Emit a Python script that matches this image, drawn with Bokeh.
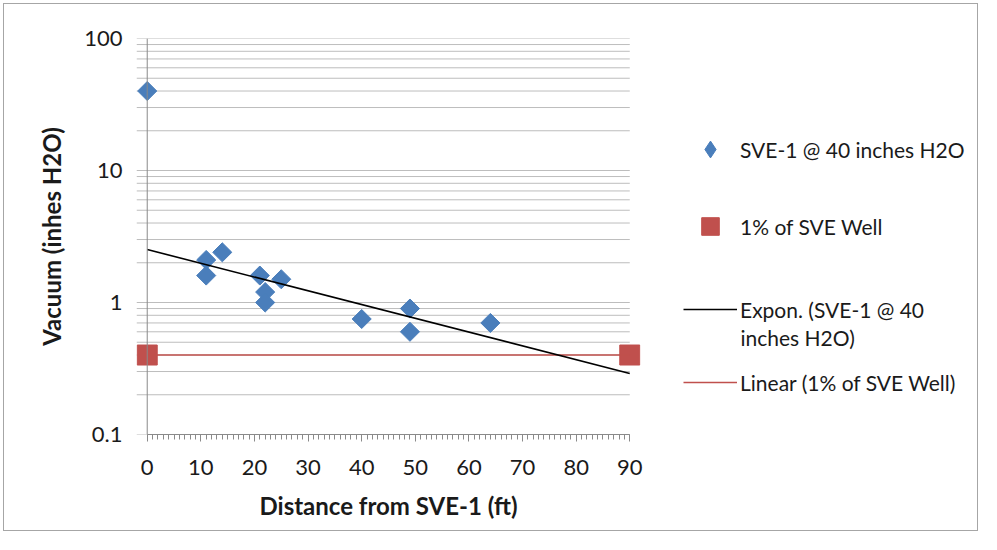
from bokeh.plotting import figure
from bokeh.layouts import row
from bokeh.models import (Range1d, SingleIntervalTicker, FixedTicker, Span, Legend, LegendItem,
                          Label, CustomJSTickFormatter)
from bokeh.embed import file_html
from bokeh.resources import INLINE

# ---- data ----
distance_ft = [0, 11, 11, 14, 21, 22, 22, 25, 40, 49, 49, 64]
vacuum_inh2o = [40, 2.1, 1.6, 2.4, 1.6, 1.2, 1.0, 1.5, 0.75, 0.9, 0.6, 0.7]

well_1pct_x = [0, 90]
well_1pct_y = [0.4, 0.4]

# exponential trendline end points (straight on log axis)
trend_x = [0, 90]
trend_y = [2.52, 0.29]

x_tick_values = [0, 10, 20, 30, 40, 50, 60, 70, 80, 90]
y_tick_values = [0.1, 1, 10, 100]
y_decades = [0.1, 1, 10]
y_multiples = [1, 2, 3, 4, 5, 6, 7, 8, 9]
grid_levels = [d * m for d in y_decades for m in y_multiples] + [100]

legend_labels = ["SVE-1 @ 40 inches H2O", "1% of SVE Well",
                 "Expon. (SVE-1 @ 40", "Linear (1% of SVE Well)"]
legend_second_line = "inches H2O)"

FONT = "Lato"
TEXT = "#1a1a1a"
BLUE = "#4a7ebb"
RED = "#c0504d"
GRID = "#bdbdbd"
AXIS = "#8a8a8a"
FRAME = "#a6a6a6"
NAN = float("nan")
DIAMOND = 0.785398  # 45 degrees

X0, X1 = -2, 92

p = figure(x_range=Range1d(X0, X1), y_range=Range1d(0.1, 100), y_axis_type="log",
           frame_width=504, frame_height=396,
           min_border_left=136, min_border_right=12, min_border_top=38, min_border_bottom=100,
           output_backend="svg", toolbar_location=None,
           background_fill_color="white", border_fill_color=None)
p.outline_line_color = None
p.xgrid.visible = False
p.ygrid.visible = False
p.styles = {"box-shadow": (f"inset 3px 0 0 0 #fff, inset 0 3px 0 0 #fff, inset 0 -3px 0 0 #fff, "
                           f"inset 4px 0 0 0 {FRAME}, inset 0 4px 0 0 {FRAME}, "
                           f"inset 0 -4px 0 0 {FRAME}")}

# horizontal grid lines (major + minor log levels)
p.segment(x0=[X0] * len(grid_levels), y0=grid_levels, x1=[x_tick_values[-1]] * len(grid_levels),
          y1=grid_levels, line_color=GRID, line_width=1)

# vertical axis line at x = 0
p.add_layout(Span(location=0, dimension="height", line_color=AXIS, line_width=1))

# ---- x axis ----
xa = p.xaxis[0]
xa.ticker = SingleIntervalTicker(interval=10, num_minor_ticks=10)
xa.bounds = (0, 90)
xa.axis_line_color = AXIS
xa.major_tick_line_color = AXIS
xa.minor_tick_line_color = AXIS
xa.major_tick_in = 0
xa.major_tick_out = 7
xa.minor_tick_in = 0
xa.minor_tick_out = 5
xa.major_label_standoff = 18
xa.major_label_text_font = FONT
xa.major_label_text_font_size = "22px"
xa.major_label_text_color = TEXT
xa.axis_label = "Distance from SVE-1 (ft)"
xa.axis_label_text_font = FONT
xa.axis_label_text_font_size = "24px"
xa.axis_label_text_font_style = "bold"
xa.axis_label_text_color = TEXT
xa.axis_label_standoff = 13

# ---- y axis ----
ya = p.yaxis[0]
ya.ticker = FixedTicker(ticks=y_tick_values, minor_ticks=[])
ya.formatter = CustomJSTickFormatter(code="return tick >= 1 ? tick.toFixed(0) : tick.toFixed(1);")
ya.axis_line_color = None
ya.major_tick_line_color = None
ya.minor_tick_line_color = None
ya.major_tick_out = 0
ya.major_tick_in = 0
ya.major_label_standoff = 14
ya.major_label_text_font = FONT
ya.major_label_text_font_size = "22px"
ya.major_label_text_color = TEXT
ya.axis_label = "Vacuum (inhes H2O)"
ya.axis_label_text_font = FONT
ya.axis_label_text_font_size = "24px"
ya.axis_label_text_font_style = "bold"
ya.axis_label_text_color = TEXT
ya.axis_label_standoff = 15

# ---- data ----
p.scatter(well_1pct_x, well_1pct_y, marker="square", size=20, fill_color=RED, line_color=RED)
p.scatter(distance_ft, vacuum_inh2o, marker="square", size=13.5, angle=DIAMOND,
          fill_color=BLUE, line_color=BLUE)
p.line(well_1pct_x, well_1pct_y, line_color=RED, line_width=1.6)
p.line(trend_x, trend_y, line_color="black", line_width=1.6)

# ---- legend panel (separate canvas to the right of the plot) ----
pl = figure(width=329, height=534, x_range=Range1d(0, 1), y_range=Range1d(0, 1),
            min_border=0, x_axis_location=None, y_axis_location=None,
            output_backend="svg", toolbar_location=None,
            background_fill_color=None, border_fill_color=None)
pl.outline_line_color = None
pl.grid.visible = False
pl.styles = {"box-shadow": (f"inset -3px 0 0 0 #fff, inset 0 3px 0 0 #fff, inset 0 -3px 0 0 #fff, "
                            f"inset -4px 0 0 0 {FRAME}, inset 0 4px 0 0 {FRAME}, "
                            f"inset 0 -4px 0 0 {FRAME}")}

# legend keys only (no visible data in this panel)
k_dia = pl.scatter(x=[NAN], y=[NAN], marker="diamond", fill_color=BLUE, line_color=BLUE)
k_sq = pl.scatter(x=[NAN], y=[NAN], marker="square", fill_color=RED, line_color=RED)
k_exp = pl.line(x=[NAN, NAN], y=[NAN, NAN], line_color="black", line_width=1.6)
k_lin = pl.line(x=[NAN, NAN], y=[NAN, NAN], line_color=RED, line_width=1.6)


def add_legend(renderer, label, vy, gh):
    lg = Legend(items=[LegendItem(label=label, renderers=[renderer])], location=(31, vy),
                glyph_width=54, glyph_height=gh, label_height=gh, label_standoff=3,
                padding=0, margin=0, spacing=0, border_line_color=None,
                background_fill_alpha=0, label_text_font=FONT, label_text_font_size="21px",
                label_text_color=TEXT)
    pl.add_layout(lg)


add_legend(k_dia, legend_labels[0], 264, 42)
add_legend(k_sq, legend_labels[1], 186, 44)
add_legend(k_exp, legend_labels[2], 110, 30)
add_legend(k_lin, legend_labels[3], 37, 30)

pl.add_layout(Label(x=88, y=97, x_units="screen", y_units="screen", text=legend_second_line,
                    text_font=FONT, text_font_size="21px", text_color=TEXT,
                    text_baseline="middle", text_align="left"))

layout = row(p, pl, spacing=0)

open("out.html", "w").write(file_html(layout, INLINE))
